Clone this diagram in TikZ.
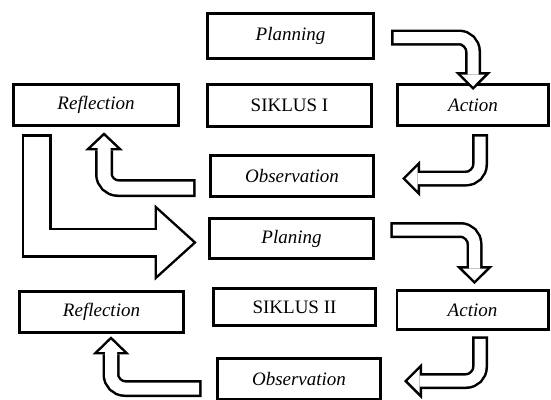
\documentclass[tikz,border=0pt]{standalone}
\usepackage{fontspec}
\setmainfont{Liberation Serif}
\usetikzlibrary{arrows.meta}

\begin{document}
\begin{tikzpicture}[x=1pt, y=-1pt,
        box/.style={draw, line width=2.6pt, inner sep=0pt, font=\fontsize{19}{22}\selectfont},
        stage/.style={box, font=\fontsize{19}{22}\selectfont\itshape},
        shell/.style n args={3}{draw=black, line width=#1, -{Triangle[width=#2, length=#3, line width=0pt]}},
        core/.style n args={4}{draw=white, line width=#1, shorten <=2.5pt, shorten >=#4, -{Triangle[width=#2, length=#3, line width=0pt]}}]
        \useasboundingbox (0,0) rectangle (551,399);

        % siklus I
        \node[stage, minimum width=166.4pt, minimum height=45.4pt] (plan1) at (290.5,36)  {Planning};
        \node[box,   minimum width=164.4pt, minimum height=42.4pt] (sik1)  at (289.5,105.5) {SIKLUS I};
        \node[stage, minimum width=151.4pt, minimum height=41.4pt] (act1)  at (473,105)   {Action};
        \node[stage, minimum width=165.4pt, minimum height=41.4pt] (ref1)  at (96,105)    {Reflection};
        \node[stage, minimum width=163.4pt, minimum height=41.4pt] (obs1)  at (292,176)   {Observation};

        % siklus II
        \node[stage, minimum width=164.4pt, minimum height=40.4pt] (plan2) at (291.5,238.5) {Planing};
        \node[box,   minimum width=162.4pt, minimum height=37.4pt] (sik2)  at (294.5,307) {SIKLUS II};
        \node[stage, minimum width=151.4pt, minimum height=39.4pt] (act2)  at (472.5,310) {Action};
        \node[stage, minimum width=164.4pt, minimum height=41.4pt] (ref2)  at (101.5,312) {Reflection};
        \node[stage, minimum width=163.4pt, minimum height=41.4pt] (obs2)  at (299,379)   {Observation};

        % block arrows: black shell first, white core on top
        \draw[shell={16pt}{36pt}{18pt}, rounded corners=14pt]
            ([xshift=16pt,yshift=-1.5pt]plan1.east) -| ([yshift=-7pt]act1.north);
        \draw[core={11pt}{23.9pt}{12pt}{3.5pt}, rounded corners=14pt]
            ([xshift=16pt,yshift=-1.5pt]plan1.east) -| ([yshift=-7pt]act1.north);

        \draw[shell={16pt}{36pt}{18pt}, rounded corners=14pt]
            ([xshift=7pt,yshift=-7pt]act1.south) |- ([xshift=27pt,yshift=-2.5pt]obs1.east);
        \draw[core={11pt}{23.9pt}{12pt}{3.5pt}, rounded corners=14pt]
            ([xshift=7pt,yshift=-7pt]act1.south) |- ([xshift=27pt,yshift=-2.5pt]obs1.east);

        \draw[shell={18pt}{38pt}{18pt}, rounded corners=14pt]
            ([xshift=-13.3pt,yshift=-12pt]obs1.west) -| ([xshift=8pt,yshift=-5.3pt]ref1.south);
        \draw[core={13pt}{25.4pt}{12pt}{3.5pt}, rounded corners=14pt]
            ([xshift=-13.3pt,yshift=-12pt]obs1.west) -| ([xshift=8pt,yshift=-5.3pt]ref1.south);

        \draw[shell={30pt}{76pt}{42pt}]
            ([xshift=24.7pt,yshift=-7.3pt]ref1.south west) |- ([xshift=-11.3pt,yshift=-4pt]plan2.west);
        \draw[core={25pt}{64.8pt}{35.8pt}{3.7pt}]
            ([xshift=24.7pt,yshift=-7.3pt]ref1.south west) |- ([xshift=-11.3pt,yshift=-4pt]plan2.west);

        \draw[shell={16pt}{37pt}{18pt}, rounded corners=14pt]
            ([xshift=15.3pt,yshift=8.5pt]plan2.east) -| ([xshift=2pt,yshift=5pt]act2.north);
        \draw[core={11pt}{24.5pt}{12pt}{3.5pt}, rounded corners=14pt]
            ([xshift=15.3pt,yshift=8.5pt]plan2.east) -| ([xshift=2pt,yshift=5pt]act2.north);

        \draw[shell={16pt}{36pt}{18pt}, rounded corners=14pt]
            ([xshift=7.5pt,yshift=-5.3pt]act2.south) |- ([xshift=22pt,yshift=-2pt]obs2.east);
        \draw[core={11pt}{23.9pt}{12pt}{3.5pt}, rounded corners=14pt]
            ([xshift=7.5pt,yshift=-5.3pt]act2.south) |- ([xshift=22pt,yshift=-2pt]obs2.east);

        \draw[shell={17pt}{37pt}{18pt}, rounded corners=14pt]
            ([xshift=-14.3pt,yshift=-9.5pt]obs2.west) -| ([xshift=9.5pt,yshift=-2.3pt]ref2.south);
        \draw[core={12pt}{24.7pt}{12pt}{3.5pt}, rounded corners=14pt]
            ([xshift=-14.3pt,yshift=-9.5pt]obs2.west) -| ([xshift=9.5pt,yshift=-2.3pt]ref2.south);
    \end{tikzpicture}
\end{document}
